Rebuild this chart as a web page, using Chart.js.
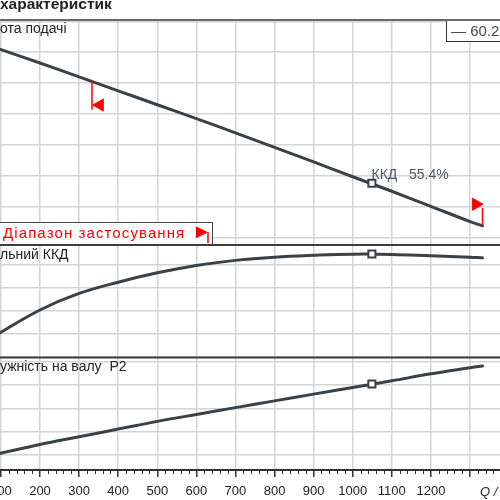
<!DOCTYPE html>
<html>
<head>
<meta charset="utf-8">
<script src="https://cdn.jsdelivr.net/npm/chart.js@4.4.1/dist/chart.umd.min.js"></script>
<style>
  html, body { margin: 0; padding: 0; background: #fff; }
  #wrap { position: relative; width: 500px; height: 500px; overflow: hidden; }
</style>
</head>
<body>
<div id="wrap"><canvas id="pumpChart" width="500" height="500"></canvas></div>
<script>
const flowQ = [90, 200, 300, 400, 500, 600, 700, 800, 900, 1000, 1100, 1200, 1300, 1332]
const headValues = [7.13, 6.65, 6.20, 5.75, 5.30, 4.85, 4.39, 3.92, 3.45, 2.97, 2.50, 2.01, 1.52, 1.38]
const effValues = [19.7, 30.4, 37.6, 42.5, 46.6, 49.8, 52.0, 53.4, 54.2, 54.7, 54.6, 54.0, 53.4, 53.1]
const powerValues = [1.04, 1.45, 1.78, 2.11, 2.44, 2.74, 3.03, 3.32, 3.61, 3.89, 4.18, 4.48, 4.74, 4.82]

// duty point
const bepQ = 1049
const bepHead = 2.76
const bepEff = 54.8
const bepPower = 4.04

// application range markers
const rangeQ = [333, 1332]
const rangeStartLine = [6.05, 5.14]
const rangeEndLine = [1.96, 1.38]
const rangeArrowQ = [353, 1315]
const rangeArrowH = [5.29, 2.08]

const curveColor = '#3a4249'
const gridColor = '#d4d4d4'
const red = '#ff0000'

Chart.defaults.font.family = '"Liberation Sans", Arial, sans-serif'

const pts = (xs, ys) => xs.map((q, i) => ({ x: q, y: ys[i] }))

const curve = (data, axis) => ({
    type: 'line',
    data: data,
    yAxisID: axis,
    borderColor: curveColor,
    borderWidth: 3,
    borderCapStyle: 'round',
    pointRadius: 0,
    tension: 0.4,
    order: 1
})

const bepMark = (y, axis) => ({
    type: 'line',
    data: [{ x: bepQ, y: y }],
    yAxisID: axis,
    showLine: false,
    pointStyle: 'rect',
    pointRadius: 5,
    pointBorderWidth: 2,
    pointBorderColor: curveColor,
    pointBackgroundColor: '#fff',
    order: 0
})

const redLine = (q, ys) => ({
    type: 'line',
    data: [{ x: q, y: ys[0] }, { x: q, y: ys[1] }],
    yAxisID: 'yH',
    borderColor: red,
    borderWidth: 1.5,
    pointRadius: 0,
    order: 0
})

const panelDecor = {
    id: 'panelDecor',
    afterDraw(chart) {
        const { ctx, chartArea, scales } = chart
        const x = scales.x
        ctx.save()

        // minor ticks every 20
        ctx.strokeStyle = '#333'
        ctx.lineWidth = 1
        for (let q = 100; q <= x.max; q += 20) {
            if (q % 100 === 0) continue
            const px = Math.round(x.getPixelForValue(q)) + 0.5
            ctx.beginPath()
            ctx.moveTo(px, chartArea.bottom)
            ctx.lineTo(px, chartArea.bottom + 4)
            ctx.stroke()
        }

        // application range box
        const boxTop = 222
        const boxBottom = scales.yE.top
        ctx.fillStyle = '#fff'
        ctx.fillRect(-2, boxTop, 215, boxBottom - boxTop)
        ctx.strokeStyle = '#444'
        ctx.lineWidth = 1
        ctx.strokeRect(-2, boxTop + 0.5, 214.5, boxBottom - boxTop)
        ctx.fillStyle = red
        ctx.font = '15px "Liberation Sans"'
        ctx.textBaseline = 'alphabetic'
        ctx.letterSpacing = '1.1px'
        ctx.fillText('Діапазон застосування', 3, 237.5)
        ctx.letterSpacing = '0px'
        ctx.font = '20px "Liberation Sans"'
        ctx.fillText('►', 192, 237.5)
        ctx.strokeStyle = red
        ctx.lineWidth = 1.5
        ctx.beginPath()
        ctx.moveTo(208, 232)
        ctx.lineTo(208, 243)
        ctx.stroke()

        // panel captions
        ctx.fillStyle = '#222'
        ctx.font = '14px "Liberation Sans"'
        ctx.fillText('ота подачі', 0, 32.5)
        ctx.fillText('льний ККД', 0, 259)
        ctx.fillText('ужність на валу  P2', 0, 370.5)

        // duty point caption
        ctx.fillStyle = '#4a5866'
        ctx.fillText('ККД   55.4%', 371.5, 179)

        // legend box
        ctx.fillStyle = '#fff'
        ctx.fillRect(446.5, chartArea.top, 60, 21.5)
        ctx.strokeStyle = '#333'
        ctx.lineWidth = 1
        ctx.strokeRect(446.5, chartArea.top, 60, 21.5)
        ctx.fillStyle = '#3d4a57'
        ctx.font = '15px "Liberation Sans"'
        ctx.fillText('— 60.2', 451, 36)

        // axis unit
        ctx.fillStyle = '#222'
        ctx.font = 'italic 13px "Liberation Sans"'
        ctx.fillText('Q /', 480, 496)

        // panel separators
        ctx.strokeStyle = '#3c3c3c'
        ctx.lineWidth = 2
        ;[scales.yE.top, scales.yP.top].forEach(y => {
            ctx.beginPath()
            ctx.moveTo(0, y)
            ctx.lineTo(500, y)
            ctx.stroke()
        })
        ctx.strokeStyle = '#6a6a6a'
        ctx.beginPath()
        ctx.moveTo(0, chartArea.top)
        ctx.lineTo(500, chartArea.top)
        ctx.stroke()

        ctx.restore()
    }
}

const yPanel = (min, max, step, weight) => ({
    type: 'linear',
    position: 'left',
    stack: 'panels',
    stackWeight: weight,
    min: min,
    max: max,
    ticks: { display: false, stepSize: step, includeBounds: false },
    grid: { color: gridColor, lineWidth: 1.5, drawTicks: false },
    border: { display: false }
})

const canvas = document.getElementById('pumpChart')

new Chart(canvas.getContext('2d'), {
    data: {
        datasets: [
            bepMark(bepHead, 'yH'),
            bepMark(bepEff, 'yE'),
            bepMark(bepPower, 'yP'),
            redLine(rangeQ[0], rangeStartLine),
            redLine(rangeQ[1], rangeEndLine),
            {
                type: 'line',
                data: pts(rangeArrowQ, rangeArrowH),
                yAxisID: 'yH',
                showLine: false,
                pointStyle: 'triangle',
                rotation: [270, 90],
                pointRadius: 7,
                pointBorderWidth: 1,
                pointBorderColor: red,
                pointBackgroundColor: red,
                order: 0
            },
            curve(pts(flowQ, headValues), 'yH'),
            curve(pts(flowQ, effValues), 'yE'),
            curve(pts(flowQ, powerValues), 'yP')
        ]
    },
    options: {
        responsive: false,
        animation: false,
        events: [],
        layout: { padding: 0, autoPadding: false },
        plugins: {
            legend: { display: false },
            tooltip: { enabled: false },
            title: {
                display: true,
                text: 'характеристик',
                align: 'start',
                color: '#222',
                font: { size: 15.5, weight: 'bold', lineHeight: 0.6 },
                padding: { top: 0, bottom: 10.7 }
            }
        },
        scales: {
            x: {
                type: 'linear',
                position: 'bottom',
                min: 97.7,
                max: 1376.7,
                ticks: {
                    stepSize: 100,
                    autoSkip: false,
                    maxRotation: 0,
                    includeBounds: false,
                    padding: 6.5,
                    color: '#222',
                    font: { size: 13 },
                    callback: v => v > 1250 ? '' : String(v)
                },
                grid: { color: gridColor, lineWidth: 1.5, tickLength: 7, tickColor: '#333', tickWidth: 1.5 },
                border: { color: '#333', width: 2 },
                afterFit: s => {
                    s.paddingLeft = 0
                    s.paddingRight = 0
                    s.height = 30
                }
            },
            yP: yPanel(0.356, 5.18, 1, 1),
            yE: yPanel(9.7, 58.7, 10, 1),
            yH: yPanel(0.761, 8.042, 1, 2)
        }
    },
    plugins: [panelDecor]
})
</script>
</body>
</html>
